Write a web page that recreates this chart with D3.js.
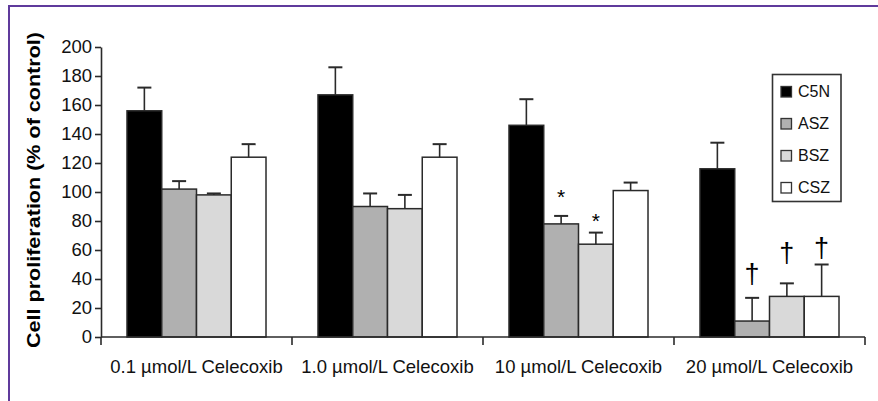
<!DOCTYPE html>
<html>
<head>
<meta charset="utf-8">
<script src="https://cdn.jsdelivr.net/npm/d3@7"></script>
<style>
  html, body { margin: 0; padding: 0; background: #fff; }
  svg { display: block; font-family: "Liberation Sans", Arial, Helvetica, sans-serif; }
</style>
</head>
<body>
<svg id="chart" width="878" height="401"></svg>
<script>
// ---- data ----
const categories = ["0.1 µmol/L Celecoxib", "1.0 µmol/L Celecoxib", "10 µmol/L Celecoxib", "20 µmol/L Celecoxib"];
const seriesNames = ["C5N", "ASZ", "BSZ", "CSZ"];
const c5nValues = [156, 167, 146, 116];
const c5nErrors = [16, 19, 18, 18];
const aszValues = [102, 90, 78, 11];
const aszErrors = [5.5, 9, 5.5, 16];
const bszValues = [98, 88.5, 64, 28];
const bszErrors = [1, 9.5, 8, 9];
const cszValues = [124, 124, 101, 28];
const cszErrors = [9, 9, 5.5, 22];
const yTicks = [0, 20, 40, 60, 80, 100, 120, 140, 160, 180, 200];
const yTitle = "Cell proliferation (% of control)";
// significance marks: category index, series, symbol, baseline value (data units)
const sigMarks = [
  { cat: 2, series: "ASZ", symbol: "*", value: 91.5 },
  { cat: 2, series: "BSZ", symbol: "*", value: 75.5 },
  { cat: 3, series: "ASZ", symbol: "†", value: 37.2 },
  { cat: 3, series: "BSZ", symbol: "†", value: 51.7 },
  { cat: 3, series: "CSZ", symbol: "†", value: 55.5 }
];
const fills = { C5N: "#000000", ASZ: "#b0b0b0", BSZ: "#d9d9d9", CSZ: "#ffffff" };

const seriesData = {
  C5N: { v: c5nValues, e: c5nErrors },
  ASZ: { v: aszValues, e: aszErrors },
  BSZ: { v: bszValues, e: bszErrors },
  CSZ: { v: cszValues, e: cszErrors }
};
const rows = [];
categories.forEach((c, i) => {
  seriesNames.forEach(s => rows.push({ cat: c, ci: i, s, v: seriesData[s].v[i], e: seriesData[s].e[i] }));
});

// ---- layout ----
const svg = d3.select("#chart");
const plotLeft = 101, plotRight = 865, plotTop = 47, plotBottom = 337;
const ink = "#2a2a2a";

// purple frame (top and left)
svg.append("line").attr("x1", 9).attr("x2", 878).attr("y1", 6).attr("y2", 6)
  .attr("stroke", "#5f3a9c").attr("stroke-width", 2);
svg.append("line").attr("x1", 9).attr("x2", 9).attr("y1", 5).attr("y2", 401)
  .attr("stroke", "#5f3a9c").attr("stroke-width", 2);

const x0 = d3.scaleBand().domain(categories).range([plotLeft, plotRight]).paddingInner(0).paddingOuter(0);
const x1 = d3.scaleBand().domain(seriesNames).range([0, x0.bandwidth()]).paddingInner(0).paddingOuter(0.748);
const y = d3.scaleLinear().domain([0, 200]).range([plotBottom, plotTop]);

// bars
const g = svg.append("g");
g.selectAll("rect.bar").data(rows).join("rect")
  .attr("class", "bar")
  .attr("x", d => x0(d.cat) + x1(d.s))
  .attr("y", d => y(d.v))
  .attr("width", x1.bandwidth())
  .attr("height", d => y(0) - y(d.v))
  .attr("fill", d => fills[d.s])
  .attr("stroke", ink).attr("stroke-width", 1.5);

// error bars (upper only)
const capW = 14;
g.selectAll("line.err").data(rows).join("line")
  .attr("class", "err")
  .attr("x1", d => x0(d.cat) + x1(d.s) + x1.bandwidth() / 2)
  .attr("x2", d => x0(d.cat) + x1(d.s) + x1.bandwidth() / 2)
  .attr("y1", d => y(d.v))
  .attr("y2", d => y(d.v + d.e))
  .attr("stroke", ink).attr("stroke-width", 1.6);
g.selectAll("line.cap").data(rows).join("line")
  .attr("class", "cap")
  .attr("x1", d => x0(d.cat) + x1(d.s) + x1.bandwidth() / 2 - capW / 2)
  .attr("x2", d => x0(d.cat) + x1(d.s) + x1.bandwidth() / 2 + capW / 2)
  .attr("y1", d => y(d.v + d.e))
  .attr("y2", d => y(d.v + d.e))
  .attr("stroke", ink).attr("stroke-width", 2);

// significance marks
g.selectAll("text.sig").data(sigMarks).join("text")
  .attr("class", "sig")
  .attr("x", d => x0(categories[d.cat]) + x1(d.series) + x1.bandwidth() / 2)
  .attr("y", d => y(d.value))
  .attr("text-anchor", "middle")
  .attr("font-size", d => d.symbol === "*" ? 21 : 27)
  .attr("fill", "#000")
  .text(d => d.symbol);

// y axis
const yAxis = svg.append("g").attr("transform", `translate(${plotLeft},0)`)
  .call(d3.axisLeft(y).tickValues(yTicks).tickSize(6).tickPadding(3).tickSizeOuter(0));
yAxis.select(".domain").attr("stroke", ink).attr("stroke-width", 1.6);
yAxis.selectAll(".tick line").attr("stroke", ink).attr("stroke-width", 1.6);
yAxis.selectAll(".tick text").attr("font-size", 18.5).attr("fill", "#111")
  .attr("font-family", "'Liberation Sans', Arial, sans-serif");

// x axis: baseline with ticks at category boundaries
const xAxisG = svg.append("g");
xAxisG.append("line").attr("x1", plotLeft).attr("x2", plotRight).attr("y1", y(0)).attr("y2", y(0))
  .attr("stroke", ink).attr("stroke-width", 1.6);
const boundaries = categories.map(c => x0(c)).concat([x0(categories[categories.length - 1]) + x0.bandwidth()]);
xAxisG.selectAll("line.xt").data(boundaries).join("line")
  .attr("class", "xt")
  .attr("x1", d => d).attr("x2", d => d)
  .attr("y1", y(0)).attr("y2", y(0) + 8)
  .attr("stroke", ink).attr("stroke-width", 1.6);
xAxisG.selectAll("text.xl").data(categories).join("text")
  .attr("class", "xl")
  .attr("x", d => x0(d) + x0.bandwidth() / 2)
  .attr("y", 373)
  .attr("text-anchor", "middle")
  .attr("font-size", 18.5)
  .attr("fill", "#111")
  .text(d => d);

// y title
svg.append("text")
  .attr("transform", "translate(40,190) rotate(-90)")
  .attr("text-anchor", "middle")
  .attr("font-size", 18)
  .attr("font-weight", "bold")
  .attr("textLength", 316)
  .attr("lengthAdjust", "spacingAndGlyphs")
  .attr("fill", "#000")
  .text(yTitle);

// legend
const lg = svg.append("g");
lg.append("rect").attr("x", 772.5).attr("y", 74.5).attr("width", 68.5).attr("height", 127)
  .attr("fill", "#fff").attr("stroke", "#333").attr("stroke-width", 1.6);
const li = lg.selectAll("g.item").data(seriesNames).join("g")
  .attr("class", "item")
  .attr("transform", (d, i) => `translate(0,${97 + i * 32})`);
li.append("rect").attr("x", 781).attr("y", -10.5).attr("width", 10.5).attr("height", 10.5)
  .attr("fill", d => fills[d]).attr("stroke", "#333").attr("stroke-width", 1.3);
li.append("text").attr("x", 798).attr("y", 0).attr("font-size", 16).attr("fill", "#111").text(d => d);
</script>
</body>
</html>
